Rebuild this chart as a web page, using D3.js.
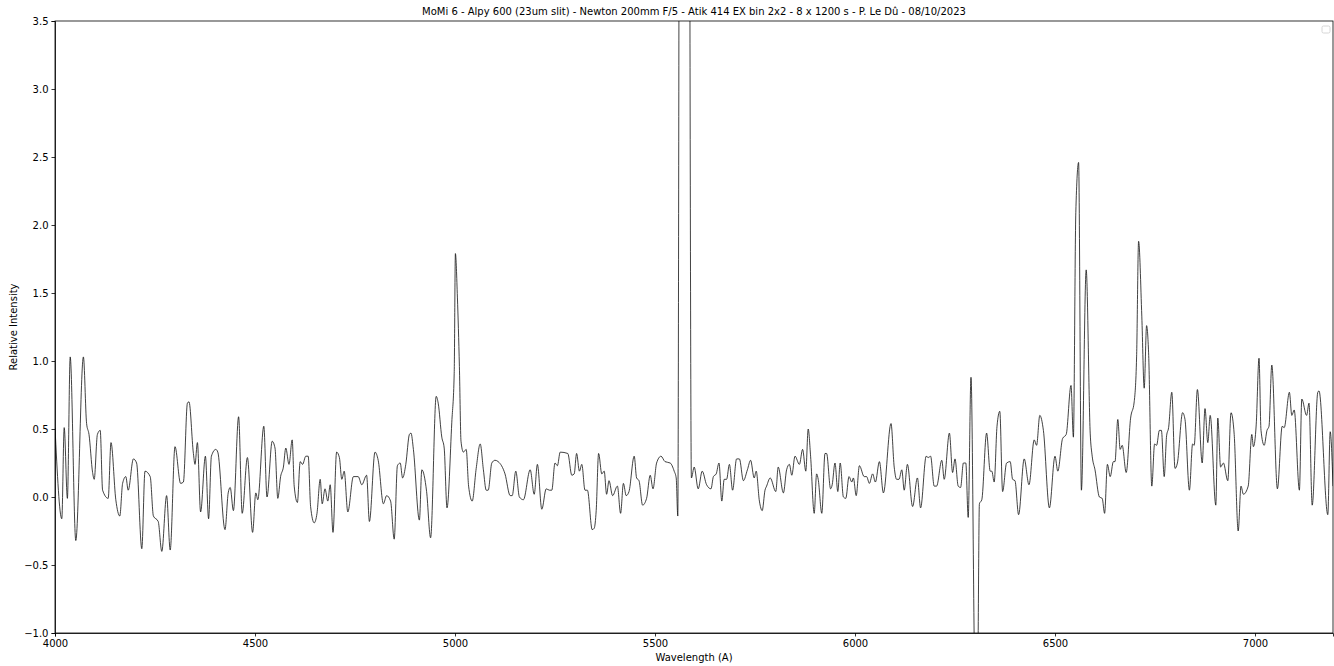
<!DOCTYPE html>
<html lang="en">
<head>
<meta charset="UTF-8">
<script src="https://cdn.jsdelivr.net/npm/d3@7"></script>
<title>MoMi 6 spectrum</title>
<style>
    body { margin: 0; background: white; font-family: "DejaVu Sans", sans-serif; }
    svg { display: block; }
    .tick text { font-family: "DejaVu Sans", sans-serif; font-size: 10px; fill: #000; }
    .tick line, .domain { stroke: #000; stroke-width: 0.8px; }
</style>
</head>
<body>
<script>
    // wavelength (A) and relative intensity
    const wavelength = [
        4000, 4017, 4023, 4031, 4038, 4052, 4071, 4079, 4085, 4094, 4098, 4106, 4113, 4119, 4133, 4140,
        4152, 4162, 4169, 4177, 4183, 4196, 4204, 4217, 4225, 4238, 4246, 4258, 4267, 4279, 4288, 4300,
        4314, 4321, 4331, 4335, 4346, 4350, 4356, 4364, 4376, 4384, 4391, 4402, 4407, 4425, 4433, 4438,
        4446, 4459, 4468, 4481, 4494, 4502, 4507, 4522, 4530, 4543, 4550, 4557, 4564, 4571, 4577, 4585,
        4593, 4598, 4606, 4613, 4619, 4627, 4633, 4639, 4648, 4655, 4663, 4668, 4675, 4682, 4688, 4695,
        4704, 4711, 4717, 4723, 4732, 4746, 4758, 4767, 4779, 4786, 4800, 4808, 4821, 4829, 4839, 4848,
        4856, 4863, 4869, 4877, 4886, 4890, 4896, 4911, 4917, 4929, 4939, 4953, 4958, 4967, 4973, 4980,
        4992, 4998, 5001, 5006, 5011, 5015, 5021, 5028, 5034, 5043, 5053, 5063, 5071, 5078, 5083, 5092,
        5100, 5108, 5125, 5138, 5143, 5152, 5161, 5171, 5188, 5198, 5206, 5217, 5228, 5236, 5242, 5250,
        5256, 5263, 5282, 5292, 5298, 5304, 5311, 5317, 5325, 5331, 5343, 5348, 5353, 5359, 5367, 5373,
        5379, 5385, 5394, 5406, 5414, 5421, 5428, 5435, 5448, 5454, 5460, 5469, 5479, 5488, 5495, 5504,
        5515, 5525, 5538, 5548, 5553, 5557, 5563, 5583, 5591, 5598, 5608, 5618, 5629, 5640, 5646, 5653,
        5660, 5667, 5673, 5679, 5686, 5694, 5704, 5711, 5721, 5731, 5739, 5748, 5753, 5761, 5768, 5775,
        5779, 5788, 5802, 5808, 5821, 5829, 5836, 5842, 5850, 5861, 5869, 5877, 5883, 5889, 5898, 5904,
        5908, 5917, 5925, 5929, 5939, 5943, 5950, 5957, 5963, 5971, 5977, 5985, 5992, 5996, 6003, 6011,
        6023, 6029, 6036, 6044, 6051, 6061, 6071, 6090, 6098, 6104, 6110, 6117, 6123, 6131, 6144, 6156,
        6164, 6178, 6183, 6189, 6198, 6204, 6217, 6223, 6236, 6244, 6250, 6258, 6264, 6271, 6277, 6283,
        6290, 6301, 6306, 6311, 6317, 6329, 6338, 6342, 6348, 6355, 6362, 6369, 6379, 6388, 6394, 6400,
        6409, 6423, 6435, 6448, 6454, 6462, 6471, 6486, 6500, 6507, 6519, 6528, 6540, 6546, 6552, 6559,
        6566, 6578, 6588, 6593, 6600, 6611, 6618, 6624, 6631, 6638, 6646, 6650, 6657, 6663, 6668, 6678,
        6689, 6698, 6704, 6709, 6717, 6723, 6729, 6734, 6742, 6749, 6754, 6761, 6766, 6773, 6779, 6784,
        6792, 6800, 6806, 6819, 6825, 6836, 6844, 6848, 6856, 6868, 6875, 6882, 6888, 6902, 6907, 6914,
        6921, 6932, 6940, 6948, 6958, 6965, 6971, 6983, 6992, 6996, 7003, 7010, 7015, 7023, 7030, 7035,
        7042, 7056, 7068, 7073, 7086, 7092, 7098, 7111, 7117, 7129, 7135, 7143, 7157, 7160, 7182, 7188,
        7195
    ];
    const intensity = [
        0.51, -0.16, 0.51, -0.01, 1.03, -0.32, 1.03, 0.54, 0.46, 0.18, 0.13, 0.46, 0.49, 0.05, -0.01, 0.40,
        -0.02, -0.14, 0.10, 0.15, 0.05, 0.28, 0.25, -0.38, 0.19, 0.15, -0.14, -0.18, -0.40, 0.01, -0.39, 0.37,
        0.10, 0.11, 0.69, 0.70, 0.32, 0.24, 0.40, -0.11, 0.30, -0.16, 0.30, 0.35, 0.33, -0.24, 0.03, 0.07,
        -0.10, 0.59, -0.12, 0.29, -0.26, 0.03, -0.02, 0.52, 0.00, 0.41, 0.36, -0.01, 0.15, 0.22, 0.36, 0.24,
        0.42, 0.08, -0.04, 0.26, 0.24, 0.30, 0.30, -0.07, -0.19, -0.12, 0.13, -0.05, 0.06, -0.03, 0.09, -0.26,
        0.33, 0.29, 0.13, 0.19, -0.11, 0.15, 0.15, 0.09, 0.16, -0.18, 0.33, 0.27, -0.05, 0.01, -0.03, -0.31,
        0.23, 0.25, 0.14, 0.24, 0.46, 0.47, 0.35, -0.17, 0.20, 0.04, -0.30, 0.74, 0.69, 0.44, 0.36, -0.08,
        0.55, 0.91, 1.79, 1.47, 0.96, 0.41, 0.33, 0.35, 0.08, -0.03, 0.21, 0.39, 0.20, 0.05, 0.05, 0.25,
        0.27, 0.26, 0.17, 0.01, 0.01, 0.19, 0.00, -0.02, 0.20, 0.02, 0.24, -0.09, 0.06, 0.05, 0.05, 0.25,
        0.23, 0.33, 0.32, 0.16, 0.17, 0.32, 0.19, 0.24, 0.05, 0.05, -0.24, -0.23, -0.10, 0.32, 0.17, 0.19,
        0.02, 0.12, 0.01, 0.08, -0.12, 0.10, 0.01, 0.04, 0.30, 0.14, 0.12, -0.06, -0.01, 0.16, 0.06, 0.25,
        0.30, 0.26, 0.25, 0.19, 0.14, -0.14, 8.0, 8.0, 0.14, 0.22, 0.06, 0.19, 0.09, 0.06, 0.15, 0.17,
        0.25, -0.03, 0.13, 0.13, 0.24, 0.05, 0.28, 0.28, 0.12, 0.20, 0.27, 0.14, 0.19, -0.03, -0.10, 0.05,
        0.08, 0.14, 0.04, 0.22, 0.03, 0.20, 0.24, 0.16, 0.30, 0.24, 0.35, 0.19, 0.50, 0.30, -0.12, 0.17,
        0.13, -0.12, 0.32, 0.32, 0.06, 0.09, 0.25, 0.04, 0.25, 0.00, -0.01, 0.15, 0.11, 0.14, 0.01, 0.23,
        0.15, 0.15, 0.10, 0.17, 0.11, 0.26, 0.03, 0.54, 0.22, 0.13, 0.13, 0.20, 0.05, 0.24, -0.07, 0.14,
        -0.08, 0.30, 0.29, 0.30, 0.08, 0.08, 0.27, 0.13, 0.47, 0.18, 0.28, 0.08, 0.07, 0.25, 0.25, -0.15,
        0.88, -1.5, -1.5, -0.05, -0.02, 0.47, 0.19, 0.19, 0.11, 0.52, 0.63, 0.04, 0.25, 0.26, 0.13, 0.12,
        -0.13, 0.28, 0.09, 0.42, 0.38, 0.60, 0.49, -0.08, 0.30, 0.19, 0.43, 0.46, 0.82, 0.44, 2.09, 2.46,
        0.05, 1.67, 0.47, 0.30, 0.20, 0.00, -0.01, -0.12, 0.24, 0.15, 0.26, 0.26, 0.57, 0.35, 0.38, 0.18,
        0.58, 0.70, 1.03, 1.88, 1.33, 0.80, 1.26, 1.06, 0.08, 0.39, 0.38, 0.49, 0.49, 0.15, 0.45, 0.51,
        0.77, 0.21, 0.25, 0.62, 0.57, 0.05, 0.39, 0.38, 0.79, 0.25, 0.65, 0.40, 0.60, -0.06, 0.58, 0.22,
        0.25, 0.12, 0.62, 0.46, -0.25, 0.08, 0.02, 0.08, 0.46, 0.37, 0.53, 1.02, 0.49, 0.38, 0.49, 0.52,
        0.97, 0.06, 0.52, 0.51, 0.77, 0.60, 0.64, 0.05, 0.72, 0.60, 0.69, -0.06, 0.77, 0.78, -0.13, 0.48,
        0.08
    ];
    const xTicks = [4000, 4500, 5000, 5500, 6000, 6500, 7000];
    const yTicks = [-1.0, -0.5, 0.0, 0.5, 1.0, 1.5, 2.0, 2.5, 3.0, 3.5];
    const title = "MoMi 6 - Alpy 600 (23um slit) - Newton 200mm F/5 - Atik 414 EX bin 2x2 - 8 x 1200 s - P. Le Dû - 08/10/2023";

    const width = 1334, height = 666;
    const margin = { top: 21, right: 1, bottom: 33, left: 55 };

    const points = wavelength.map((w, i) => ({ w: w, v: intensity[i] }));

    const svg = d3.select("body").append("svg")
        .attr("width", width)
        .attr("height", height);

    const x = d3.scaleLinear()
        .domain([4000, 7195])
        .range([margin.left, width - margin.right]);
    const y = d3.scaleLinear()
        .domain([-1.0, 3.5])
        .range([height - margin.bottom, margin.top]);

    svg.append("clipPath").attr("id", "plot-clip")
        .append("rect")
        .attr("x", margin.left).attr("y", margin.top)
        .attr("width", x.range()[1] - margin.left)
        .attr("height", y.range()[0] - margin.top);

    const line = d3.line()
        .x(d => x(d.w))
        .y(d => y(d.v))
        .curve(d3.curveMonotoneX);

    svg.append("path")
        .datum(points)
        .attr("clip-path", "url(#plot-clip)")
        .attr("fill", "none")
        .attr("stroke", "#111")
        .attr("stroke-width", 0.8)
        .attr("stroke-linejoin", "round")
        .attr("d", line);

    // axes
    svg.append("g")
        .attr("transform", `translate(0,${y.range()[0]})`)
        .call(d3.axisBottom(x).tickValues(xTicks).tickSize(3.5).tickPadding(3).tickFormat(d3.format("d")));
    svg.append("g")
        .attr("transform", `translate(${margin.left},0)`)
        .call(d3.axisLeft(y).tickValues(yTicks).tickSize(3.5).tickPadding(3).tickFormat(d3.format(".1f")));

    // frame (top / right spines)
    svg.append("rect")
        .attr("x", margin.left).attr("y", margin.top)
        .attr("width", x.range()[1] - margin.left)
        .attr("height", y.range()[0] - margin.top)
        .attr("fill", "none")
        .attr("stroke", "#000")
        .attr("stroke-width", 0.8);

    svg.append("text")
        .attr("x", (margin.left + x.range()[1]) / 2)
        .attr("y", 15)
        .attr("text-anchor", "middle")
        .style("font-size", "10px")
        .text(title);

    svg.append("text")
        .attr("x", (margin.left + x.range()[1]) / 2)
        .attr("y", 661)
        .attr("text-anchor", "middle")
        .style("font-size", "10px")
        .text("Wavelength (A)");

    svg.append("text")
        .attr("transform", `translate(17,${(margin.top + y.range()[0]) / 2}) rotate(-90)`)
        .attr("text-anchor", "middle")
        .style("font-size", "10px")
        .text("Relative Intensity");

    // empty legend box, top right
    svg.append("rect")
        .attr("x", 1322).attr("y", 26)
        .attr("width", 8).attr("height", 7)
        .attr("rx", 1.5)
        .attr("fill", "white")
        .attr("stroke", "#ccc")
        .attr("stroke-width", 0.8);
</script>
</body>
</html>
